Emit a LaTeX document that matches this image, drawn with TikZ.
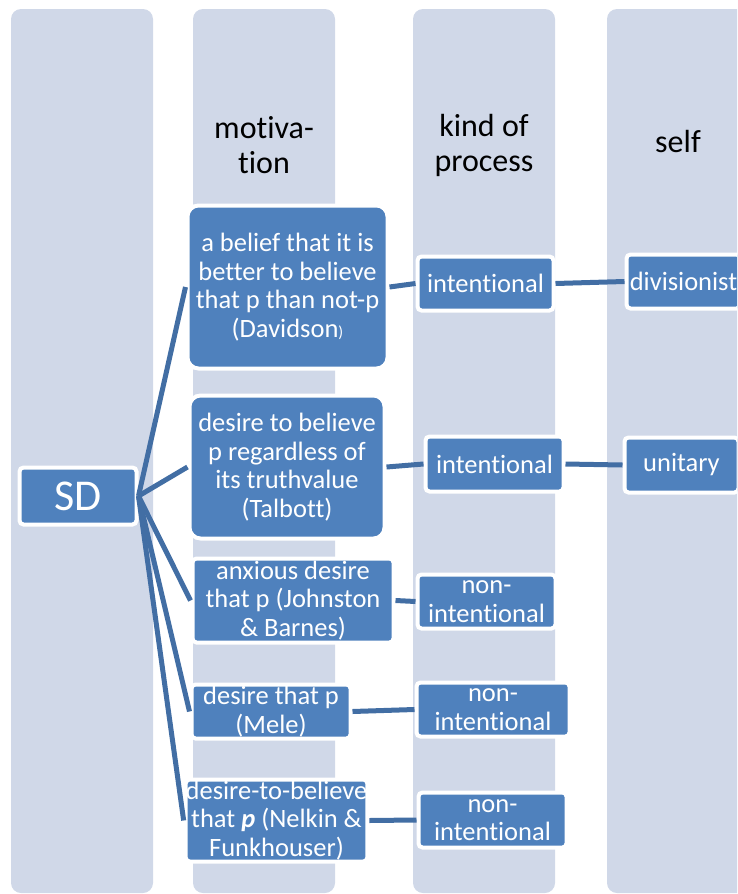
\documentclass[tikz,border=0pt]{standalone}
\usepackage{fontspec}
\setmainfont{Carlito}[Ligatures={NoCommon,NoContextual}]
\definecolor{laneblue}{RGB}{208,216,232}
\definecolor{boxblue}{RGB}{79,129,189}
\definecolor{linkblue}{RGB}{66,110,164}
\newcommand{\boxfont}{\fontsize{26.5}{28.5}\selectfont}
\newcommand{\headfont}{\fontsize{32}{35}\selectfont}
\begin{document}
\begin{tikzpicture}[x=1pt,y=-1pt,
  lane/.style={fill=laneblue, rounded corners=10pt},
  box/.style={draw=white, line width=4pt, fill=boxblue, text=white,
    rounded corners=4pt, align=center, inner sep=0pt, font=\boxfont},
  bigbox/.style={box, rounded corners=11pt},
  head/.style={align=center, font=\headfont, text=black},
  link/.style={draw=linkblue, line width=5pt}]
\useasboundingbox (0,0) rectangle (737,894);
\clip (0,0) rectangle (737,894);

% column lanes
\path[lane] (11,9) rectangle (153,893);
\path[lane] (193,9) rectangle (335,893);
\path[lane] (413,9) rectangle (555,893);
\path[lane] (607,9) rectangle (749,893);

% column headings
\node[head] (hmot) at (264,145) {motiva-\\tion};
\node[head] (hproc) at (484,145) {kind of\\process};
\node[head] (hself) at (678,142) {self};

% root
\node[box, minimum width=117pt, minimum height=57pt, font=\fontsize{44}{44}\selectfont] (sd) at (78,496) {SD};

% motivations
\node[bigbox, minimum width=200pt, minimum height=163pt] (m1) at (287.5,287)
  {a belief that it is\\better to believe\\that p than not-p\\(Davidson{\fontsize{16}{16}\selectfont)}};
\node[bigbox, minimum width=195pt, minimum height=143pt] (m2) at (287,467)
  {desire to believe\\p regardless of\\its truthvalue\\(Talbott)};
\node[box, minimum width=201pt, minimum height=84pt] (m3) at (293,600.5)
  {anxious desire\\that p (Johnston\\\& Barnes)};
\node[box, minimum width=159pt, minimum height=54pt] (m4) at (271,711.5)
  {desire that p\\(Mele)};
\node[box, minimum width=168pt, minimum height=82pt] (m5) at (276.5,820.5)
  {desire-to-believe\\that \textbf{\textit{p}} (Nelkin \&\\Funkhouser)};

% kinds of process
\node[box, minimum width=136pt, minimum height=54pt] (p1) at (485.5,283.5) {intentional};
\node[box, minimum width=138pt, minimum height=55pt] (p2) at (494.5,464) {intentional};
\node[box, minimum width=138pt, minimum height=54pt] (p3) at (486.5,601.5) {non-\\intentional};
\node[box, minimum width=153pt, minimum height=54pt] (p4) at (493,709.5) {non-\\intentional};
\node[box, minimum width=148pt, minimum height=55pt] (p5) at (492.5,820) {non-\\intentional};

% selves
\node[box, minimum width=114pt, minimum height=54pt] (s1) at (683.5,281.5) {divisionist};
\node[box, minimum width=114pt, minimum height=55pt] (s2) at (681.5,465) {unitary};

% connectors
\foreach \m in {m1,m2,m3,m4,m5}
  \draw[link] (sd.east) -- (\m.west);
\draw[link] (m1.east) -- (p1.west);
\draw[link] (m2.east) -- (p2.west);
\draw[link] (m3.east) -- (p3.west);
\draw[link] (m4.east) -- (p4.west);
\draw[link] (m5.east) -- (p5.west);
\draw[link] (p1.east) -- (s1.west);
\draw[link] (p2.east) -- (s2.west);
\end{tikzpicture}
\end{document}
